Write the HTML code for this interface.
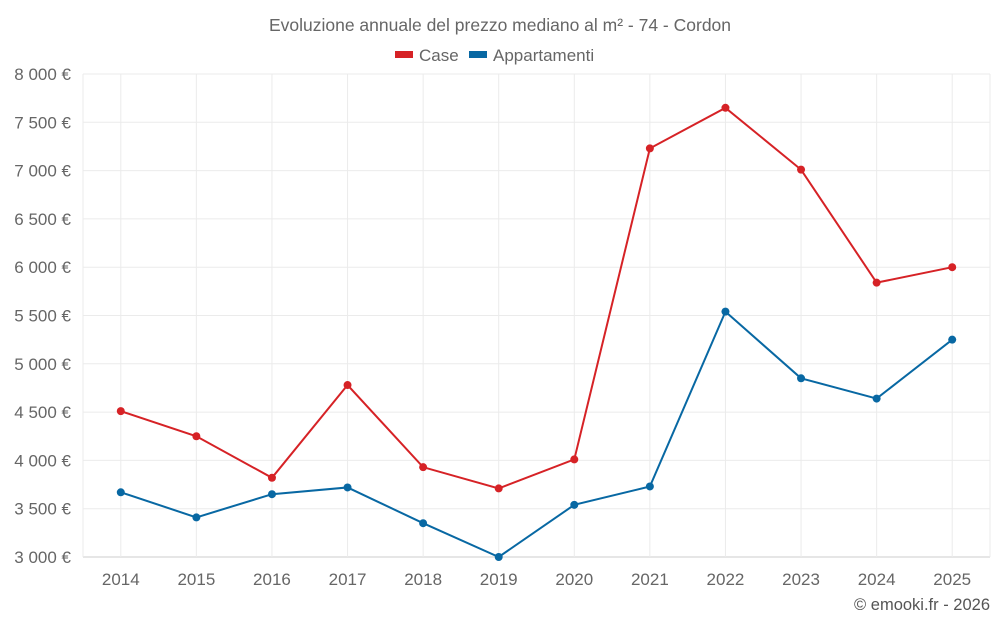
<!DOCTYPE html>
<html><head><meta charset="utf-8"><style>
body{margin:0;background:#fff;font-family:"Liberation Sans",sans-serif;}
svg text{font-family:"Liberation Sans",sans-serif;}
</style></head><body>
<svg id="chart" width="1000" height="625">
<text x="500" y="31" text-anchor="middle" font-size="17.5" fill="#666">Evoluzione annuale del prezzo mediano al m² - 74 - Cordon</text>
<g>
<g><rect x="395" y="51" width="18" height="7" fill="#d62226"/><text x="419" y="61" font-size="17" fill="#666">Case</text></g>
<g><rect x="469" y="51" width="18" height="7" fill="#0868a3"/><text x="493" y="61" font-size="17" fill="#666">Appartamenti</text></g>
</g>
<g id="grid"></g><g id="axes"></g><g id="series"></g>
<text x="990" y="610" text-anchor="end" font-size="16.5" fill="#555">© emooki.fr - 2026</text>
</svg>
<script>
const categories=["2014","2015","2016","2017","2018","2019","2020","2021","2022","2023","2024","2025"];
const caseValues=[4510,4250,3820,4780,3930,3710,4010,7230,7650,7010,5840,6000];
const appValues=[3670,3410,3650,3720,3350,3000,3540,3730,5540,4850,4640,5250];
const yTicks=[3000,3500,4000,4500,5000,5500,6000,6500,7000,7500,8000];
const yTickLabels=["3 000 €","3 500 €","4 000 €","4 500 €","5 000 €","5 500 €","6 000 €","6 500 €","7 000 €","7 500 €","8 000 €"];
const L=83,R=990,T=74,B=557,ymin=3000,ymax=8000;
const NS="http://www.w3.org/2000/svg";
const band=(R-L)/categories.length;
function xs(i){return L+band*(i+0.5);}
function ys(v){return B-(v-ymin)/(ymax-ymin)*(B-T);}
function mk(tag,attrs,parent){const e=document.createElementNS(NS,tag);for(const k in attrs)e.setAttribute(k,attrs[k]);parent.appendChild(e);return e;}
const grid=document.getElementById('grid'),axes=document.getElementById('axes'),ser=document.getElementById('series');
yTicks.forEach((v,i)=>{
 const l=mk('line',{x1:L,x2:R,y1:ys(v),y2:ys(v),stroke:i==0?'#ccc':'#ebebeb'},grid);
 
 
 const t=mk('text',{x:71,y:ys(v)+6,'text-anchor':'end','font-size':17,fill:'#666'},axes);
 t.textContent=yTickLabels[i];
 
 
});
[L,R].forEach(x=>{
 const l=mk('line',{x1:x,x2:x,y1:T,y2:B,stroke:'#ebebeb'},grid);
 
 
});
categories.forEach((c,i)=>{
 const l=mk('line',{x1:xs(i),x2:xs(i),y1:T,y2:B,stroke:'#ebebeb'},grid);
 
 
 const t=mk('text',{x:xs(i),y:585,'text-anchor':'middle','font-size':17,fill:'#666'},axes);
 t.textContent=c;
 
 
});
function drawSeries(vals,color,name){
 const p=mk('polyline',{points:vals.map((v,i)=>xs(i)+','+ys(v)).join(' '),fill:'none',stroke:color,'stroke-width':2},ser);
 
 
 vals.forEach((v,i)=>{
  const c=mk('circle',{cx:xs(i),cy:ys(v),r:4,fill:color},ser);
  
  
 });
}
drawSeries(caseValues,'#d62226','case');
drawSeries(appValues,'#0868a3','appartamenti');
</script>
</body></html>
